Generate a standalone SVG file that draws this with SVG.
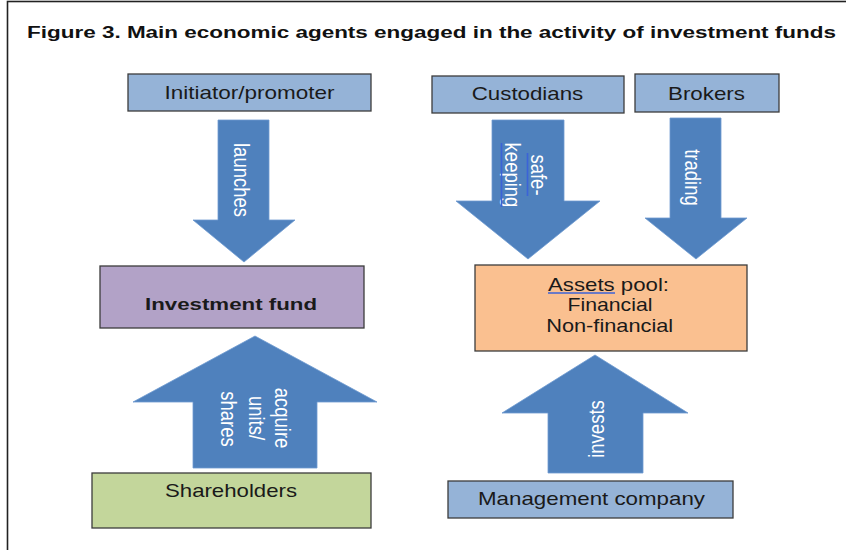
<svg xmlns="http://www.w3.org/2000/svg" width="846" height="550" viewBox="0 0 846 550">
<style>
  .box { stroke: #3c3c3c; stroke-width: 1.3; }
  .blue { fill: #95B3D7; }
  .t { font-family: "Liberation Sans", Arial, sans-serif; font-size: 18.5px; fill: #1a1a1a; text-anchor: middle; }
  .b { font-weight: bold; font-size: 16.8px; }
  .arrow { fill: #4F81BD; stroke: #6f9ad0; stroke-width: 0.8; }
  .at { font-family: "Liberation Sans", Arial, sans-serif; font-size: 18.5px; fill: #ffffff; text-anchor: middle; }
  .spell { stroke: #3b63d8; stroke-width: 1.6; fill: none; }
</style>
<rect x="0" y="0" width="846" height="550" fill="#ffffff"/>
<rect x="7.5" y="1.5" width="850" height="560" fill="none" stroke="#222222" stroke-width="1.6"/>
<text x="27" y="38" font-family="Liberation Sans, Arial, sans-serif" font-weight="bold" font-size="16" fill="#111111" textLength="809" lengthAdjust="spacingAndGlyphs">Figure 3. Main economic agents engaged in the activity of investment funds</text>

<g id="connectors">
  <g id="arrow-launches">
    <polygon class="arrow" points="218,120 269,120 269,220 295,220 244,262 193,220 218,220"/>
    <text class="at" transform="translate(233.5,180) scale(1.2,1) rotate(90)">launches</text>
  </g>
  <g id="arrow-safekeeping">
    <polygon class="arrow" points="492,120 564,120 564,201 600,201 528,259 456,201 492,201"/>
    <text class="at" transform="translate(531,175) scale(1.2,1) rotate(90)">safe-</text>
    <text class="at" transform="translate(505,175) scale(1.2,1) rotate(90)">keeping</text>
    <line class="spell" x1="527.5" y1="153" x2="527.5" y2="196"/>
    <line class="spell" x1="501.5" y1="143" x2="501.5" y2="207"/>
  </g>
  <g id="arrow-trading">
    <polygon class="arrow" points="670,118 721,118 721,218 747,218 696,259 645,218 670,218"/>
    <text class="at" transform="translate(685,177.5) scale(1.2,1) rotate(90)">trading</text>
  </g>
  <g id="arrow-acquire">
    <polygon class="arrow" points="255,336 377,402 317,402 317,468 193,468 193,402 133,402"/>
    <text class="at" transform="translate(275,418) scale(1.2,1) rotate(90)">acquire</text>
    <text class="at" transform="translate(248.5,418) scale(1.2,1) rotate(90)">units/</text>
    <text class="at" transform="translate(221,419) scale(1.2,1) rotate(90)">shares</text>
  </g>
  <g id="arrow-invests">
    <polygon class="arrow" points="595,355 688,413 643,413 643,473 548,473 548,413 502,413"/>
    <text class="at" transform="translate(604,429) scale(1.2,1) rotate(-90)">invests</text>
  </g>
</g>

<g id="initiator">
  <rect class="box blue" x="128" y="74" width="243" height="37"/>
  <text class="t" x="249.5" y="99.3" textLength="170" lengthAdjust="spacingAndGlyphs">Initiator/promoter</text>
</g>
<g id="custodians">
  <rect class="box blue" x="432" y="76" width="192" height="37"/>
  <text class="t" x="527.5" y="100" textLength="111.5" lengthAdjust="spacingAndGlyphs">Custodians</text>
</g>
<g id="brokers">
  <rect class="box blue" x="635" y="74" width="144" height="38"/>
  <text class="t" x="706.5" y="100" textLength="77" lengthAdjust="spacingAndGlyphs">Brokers</text>
</g>
<g id="investment-fund">
  <rect class="box" fill="#B2A2C7" x="100" y="266" width="264" height="62"/>
  <text class="t b" x="231" y="310" textLength="172" lengthAdjust="spacingAndGlyphs">Investment fund</text>
</g>
<g id="assets-pool">
  <rect class="box" fill="#FAC090" x="475" y="265" width="272" height="86"/>
  <text class="t" x="608.5" y="291" textLength="121" lengthAdjust="spacingAndGlyphs">Assets pool:</text>
  <line class="spell" x1="548" y1="293" x2="615" y2="293" stroke-width="1.4"/>
  <text class="t" x="610" y="311" textLength="85" lengthAdjust="spacingAndGlyphs">Financial</text>
  <text class="t" x="609.7" y="331.5" textLength="127" lengthAdjust="spacingAndGlyphs">Non-financial</text>
</g>
<g id="shareholders">
  <rect class="box" fill="#C3D69B" x="92" y="473" width="279" height="55"/>
  <text class="t" x="231" y="497" textLength="132" lengthAdjust="spacingAndGlyphs">Shareholders</text>
</g>
<g id="management-company">
  <rect class="box blue" x="448" y="481" width="285" height="37"/>
  <text class="t" x="591.5" y="505" textLength="227" lengthAdjust="spacingAndGlyphs">Management company</text>
</g>
</svg>
